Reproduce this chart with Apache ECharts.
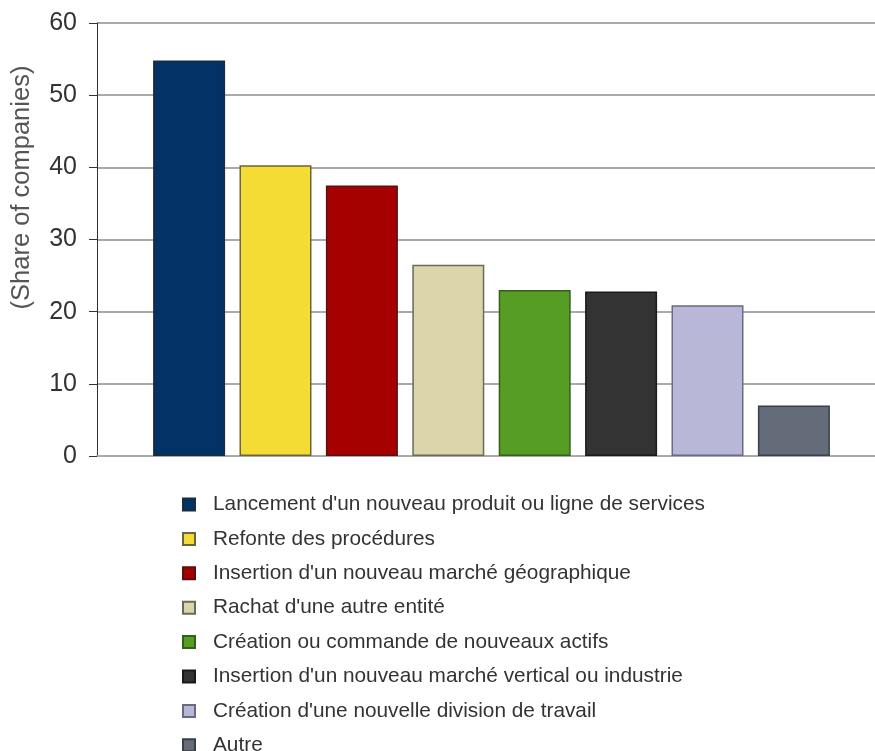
<!DOCTYPE html>
<html>
<head>
<meta charset="utf-8">
<script src="https://cdn.jsdelivr.net/npm/echarts@6/dist/echarts.min.js"></script>
<style>html,body{margin:0;padding:0;background:#fff}#c{width:875px;height:751px}</style>
</head>
<body>
<div id="c"></div>
<script>
const categories = [
  "Lancement d'un nouveau produit ou ligne de services",
  "Refonte des procédures",
  "Insertion d'un nouveau marché géographique",
  "Rachat d'une autre entité",
  "Création ou commande de nouveaux actifs",
  "Insertion d'un nouveau marché vertical ou industrie",
  "Création d'une nouvelle division de travail",
  "Autre"
];
const values = [54.8, 40.3, 37.5, 26.5, 23.0, 22.8, 20.9, 7.0];
const colors = ['#033366', '#F5DC35', '#A50101', '#DCD5AA', '#559D24', '#333333', '#B8B7D7', '#646C7A'];
const borders = ['#1d2a40', '#6a6440', '#5a1010', '#6a6a5a', '#355f1a', '#1a1a1a', '#6a6a80', '#3a3f48'];
const yTicks = [0, 10, 20, 30, 40, 50, 60];
const yAxisName = '(Share of companies)';

const chart = echarts.init(document.getElementById('c'));
const font = 'Liberation Sans, Arial, sans-serif';
chart.setOption({
  animation: false,
  backgroundColor: '#fff',
  grid: { left: 97, right: -11, top: 23, bottom: 295, containLabel: false, outerBoundsMode: 'none' },
  legend: {
    orient: 'vertical',
    left: 182,
    top: 494,
    height: 300,
    padding: 0,
    itemWidth: 12,
    itemHeight: 12,
    itemGap: 13.4,
    icon: 'rect',
    data: categories,
    textStyle: { fontFamily: font, fontSize: 20.8, color: '#333', padding: [0, 0, 0, 13] },
    selectedMode: false
  },
  xAxis: {
    type: 'category',
    data: [''],
    axisLine: { show: true, lineStyle: { color: '#aaa', width: 2 } },
    axisTick: { show: false },
    axisLabel: { show: false }
  },
  yAxis: {
    type: 'value',
    min: yTicks[0],
    max: yTicks[yTicks.length - 1],
    interval: 10,
    name: yAxisName,
    nameLocation: 'middle',
    nameRotate: 90,
    nameGap: 62,
    nameTextStyle: { fontFamily: font, fontSize: 25.5, color: '#555', padding: [0, 0, 0, 104] },
    axisLine: { show: true, lineStyle: { color: '#333', width: 1 } },
    axisTick: { show: true, length: 8, lineStyle: { color: '#333' } },
    axisLabel: { fontFamily: font, fontSize: 25, color: '#333', margin: 20 },
    splitLine: { show: true, lineStyle: { color: '#aaa', width: 2 } }
  },
  series: categories.map((name, i) => ({
    name: name,
    type: 'bar',
    data: [values[i]],
    barWidth: 72,
    barGap: '20%',
    itemStyle: { color: colors[i], borderColor: borders[i], borderWidth: 1.5 }
  }))
});
</script>
</body>
</html>
